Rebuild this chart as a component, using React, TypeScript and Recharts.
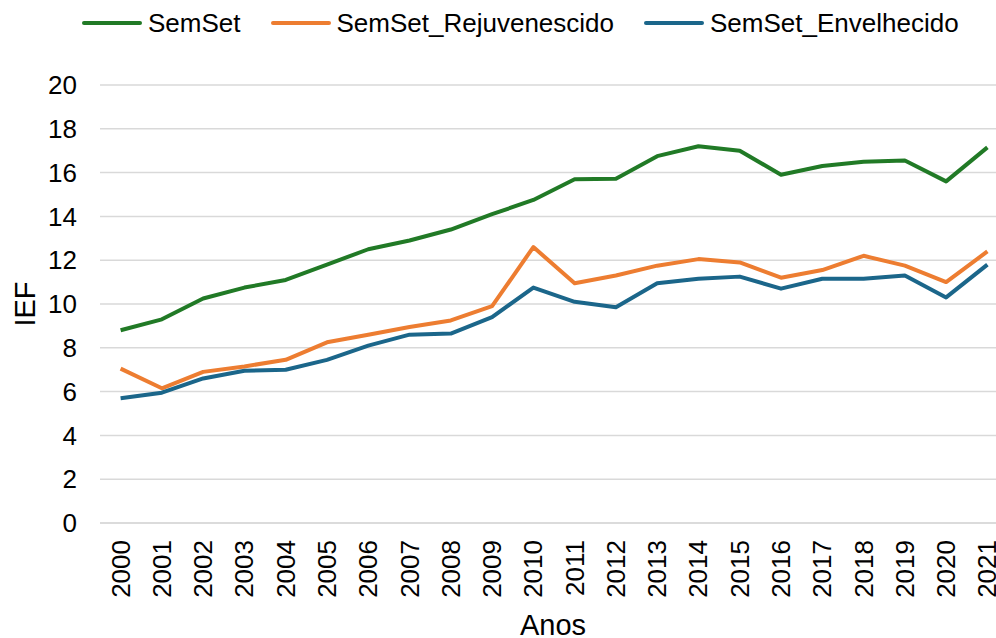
import { LineChart, Line, XAxis, YAxis, CartesianGrid, Label } from 'recharts'

const years = [
  '2000', '2001', '2002', '2003', '2004', '2005', '2006', '2007', '2008', '2009', '2010',
  '2011', '2012', '2013', '2014', '2015', '2016', '2017', '2018', '2019', '2020', '2021',
]

const semSet = [
  8.8, 9.3, 10.25, 10.75, 11.1, 11.8, 12.5, 12.9, 13.4, 14.1, 14.75,
  15.7, 15.72, 16.75, 17.2, 17.0, 15.9, 16.3, 16.5, 16.55, 15.6, 17.15,
]

const semSetRejuv = [
  7.05, 6.15, 6.9, 7.15, 7.45, 8.25, 8.6, 8.95, 9.25, 9.9, 12.6,
  10.95, 11.3, 11.75, 12.05, 11.9, 11.2, 11.55, 12.2, 11.75, 11.0, 12.4,
]

const semSetEnvelh = [
  5.7, 5.95, 6.6, 6.95, 7.0, 7.45, 8.1, 8.6, 8.65, 9.4, 10.75,
  10.1, 9.85, 10.95, 11.15, 11.25, 10.7, 11.15, 11.15, 11.3, 10.3, 11.8,
]

const yTicks = [0, 2, 4, 6, 8, 10, 12, 14, 16, 18, 20]

const SERIES = [
  { key: 'semSet', name: 'SemSet', color: '#217a26' },
  { key: 'rejuv', name: 'SemSet_Rejuvenescido', color: '#ed7d31' },
  { key: 'envelh', name: 'SemSet_Envelhecido', color: '#1b668a' },
]

const FONT = '"Liberation Sans", Arial, sans-serif'

const data = years.map((y, i) => ({
  year: y,
  semSet: semSet[i],
  rejuv: semSetRejuv[i],
  envelh: semSetEnvelh[i],
}))

function YearTick({ x, y, payload }: { x?: number; y?: number; payload?: { value: string } }) {
  return (
    <text
      transform={`translate(${x}, ${(y ?? 0) + 17}) rotate(-90)`}
      textAnchor="end"
      dominantBaseline="central"
      fontSize={26}
      fontFamily={FONT}
      fill="#000"
    >
      {payload?.value}
    </text>
  )
}

export default function App() {
  return (
    <div
      style={{
        position: 'absolute',
        top: 0,
        left: 0,
        width: 996,
        height: 638,
        overflow: 'hidden',
        background: '#fff',
        fontFamily: FONT,
      }}
    >
      <div
        style={{
          position: 'absolute',
          top: 0,
          left: 82,
          height: 46,
          display: 'flex',
          alignItems: 'center',
          fontSize: 26,
          color: '#000',
          whiteSpace: 'nowrap',
        }}
      >
        {SERIES.map((s) => (
          <span key={s.key} style={{ display: 'flex', alignItems: 'center', marginRight: 30 }}>
            <span
              style={{ display: 'inline-block', width: 60, height: 4, background: s.color, marginRight: 6, borderRadius: 2 }}
            />
            {s.name}
          </span>
        ))}
      </div>
      <LineChart width={1010} height={638} data={data} margin={{ top: 85, right: 2, left: 0, bottom: 0 }}>
        <CartesianGrid horizontal vertical={false} stroke="#d9d9d9" strokeWidth={1.5} />
        <XAxis
          dataKey="year"
          height={115}
          padding={{ left: 20.6, right: 20.6 }}
          axisLine={{ stroke: '#d9d9d9', strokeWidth: 1.5 }}
          tickLine={false}
          tickSize={0}
          tickMargin={0}
          interval={0}
          tick={<YearTick />}
        >
          <Label
            content={() => (
              <text x={553} y={635} textAnchor="middle" fontSize={29} fontFamily={FONT} fill="#000">
                Anos
              </text>
            )}
          />
        </XAxis>
        <YAxis
          width={100}
          domain={[0, 20]}
          ticks={yTicks}
          axisLine={false}
          tickLine={false}
          tickSize={0}
          tickMargin={23}
          tick={{ fontSize: 26, fill: '#000', fontFamily: FONT }}
        >
          <Label
            content={() => (
              <text
                x={25}
                y={304}
                transform="rotate(-90 25 304)"
                textAnchor="middle"
                dominantBaseline="central"
                fontSize={29}
                fontFamily={FONT}
                fill="#000"
              >
                IEF
              </text>
            )}
          />
        </YAxis>
        {SERIES.map((s) => (
          <Line
            key={s.key}
            type="linear"
            dataKey={s.key}
            name={s.name}
            stroke={s.color}
            strokeWidth={4}
            strokeLinejoin="round"
            dot={false}
            activeDot={false}
            isAnimationActive={false}
          />
        ))}
      </LineChart>
    </div>
  )
}
